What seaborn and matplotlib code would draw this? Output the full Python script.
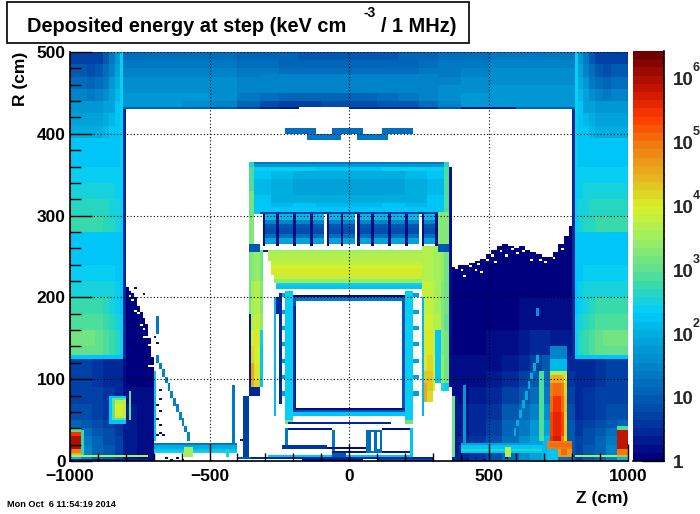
import numpy as np
import matplotlib
matplotlib.use("Agg")
import matplotlib.pyplot as plt
from matplotlib.colors import LinearSegmentedColormap, LogNorm
from matplotlib.patches import Rectangle
import seaborn as sns

# all values are log10(keV cm-3 / 1 MHz)
Z_MIN, Z_MAX, R_MAX = -1000, 1000, 500
Z_BIN, R_BIN = 10, 2.5

# palette anchors (log10 value, colour)
palette_logs = [0, 0.5, 1, 1.5, 2, 2.3, 2.7, 3, 3.5, 4, 4.5, 5, 5.4, 5.8, 6.42]
palette_cols = ["#00007f", "#00339f", "#0060b5", "#0088cc", "#00b0e0", "#00ccff", "#30d8b0", "#60e090",
                "#a0f060", "#d8f028", "#e6b020", "#f07a10", "#ff3c00", "#d01800", "#700000"]

# end cap block, written for the left side and mirrored
cap_z = [-1000, -970, -940, -910, -880, -860, -840, -820, -806]
cap_r = [500, 485, 470, 455, 440, 425, 410, 395, 380, 360, 340, 320, 300, 280, 260, 240, 220, 200, 180, 160, 140, 130, 125]
cap_v = [[0.7, 0.7, 0.7, 0.7, 1.0, 1.3, 1.7, 2.4],
         [0.9, 0.9, 0.8, 0.9, 1.2, 1.5, 1.9, 2.4],
         [1.2, 1.2, 1.1, 1.2, 1.4, 1.7, 2.0, 2.4],
         [1.5, 1.5, 1.4, 1.5, 1.6, 1.8, 2.1, 2.4],
         [1.7, 1.7, 1.7, 1.7, 1.8, 1.9, 2.2, 2.4],
         [1.9, 1.9, 1.9, 1.9, 2.0, 2.1, 2.2, 2.4],
         [2.05, 2.05, 2.05, 2.05, 2.1, 2.2, 2.25, 2.35],
         [2.2, 2.2, 2.2, 2.2, 2.2, 2.25, 2.3, 2.35],
         [2.3, 2.3, 2.3, 2.3, 2.3, 2.3, 2.3, 2.35],
         [2.4, 2.4, 2.4, 2.4, 2.4, 2.4, 2.35, 2.35],
         [2.55, 2.55, 2.55, 2.55, 2.5, 2.45, 2.4, 2.35],
         [2.65, 2.65, 2.65, 2.65, 2.6, 2.5, 2.45, 2.4],
         [2.75, 2.75, 2.75, 2.7, 2.65, 2.6, 2.5, 2.4],
         [2.25, 2.25, 2.25, 2.25, 2.25, 2.25, 2.25, 2.25],
         [2.3, 2.3, 2.3, 2.3, 2.3, 2.3, 2.25, 2.25],
         [2.4, 2.4, 2.4, 2.4, 2.4, 2.35, 2.3, 2.25],
         [2.55, 2.55, 2.55, 2.55, 2.5, 2.45, 2.35, 2.25],
         [2.75, 2.75, 2.75, 2.7, 2.65, 2.55, 2.4, 2.3],
         [2.95, 2.95, 2.95, 2.9, 2.8, 2.65, 2.5, 2.35],
         [3.1, 3.1, 3.1, 3.05, 2.95, 2.8, 2.6, 2.4],
         [3.05, 3.05, 3.05, 3.0, 2.9, 2.8, 2.6, 2.4],
         [2.2, 2.2, 2.2, 2.2, 2.2, 2.2, 2.2, 2.2]]

cap_low_z = [-1000, -960, -920, -880, -840, -806]
cap_low_r = [125, 90, 70, 50, 40, 30, 20, 10, 0]
cap_low_v = [[0.7, 0.65, 0.6, 0.5, 0.4],
             [0.75, 0.7, 0.65, 0.55, 0.45],
             [0.85, 0.8, 0.7, 0.6, 0.5],
             [1.1, 0.95, 0.8, 0.7, 0.55],
             [1.5, 1.2, 0.95, 0.8, 0.6],
             [1.9, 1.4, 1.05, 0.85, 0.65],
             [2.1, 1.5, 1.1, 0.9, 0.7],
             [2.1, 1.5, 1.1, 0.9, 0.7]]

yoke_z = [-806, -700, -600, -500, -400, -320, -250, -180, -100, 0, 100, 180, 250, 320, 400, 500, 600, 700, 806]
yoke_r = [500, 490, 480, 470, 460, 450, 440, 433, 430]
yoke_v = [[1.25, 1.25, 1.25, 1.2, 1.15, 1.1, 1.05, 1.0, 1.0, 1.0, 1.0, 1.05, 1.1, 1.2, 1.25, 1.3, 1.35, 1.4],
          [1.4, 1.4, 1.4, 1.35, 1.25, 1.2, 1.15, 1.1, 1.1, 1.1, 1.1, 1.15, 1.2, 1.3, 1.4, 1.45, 1.5, 1.5],
          [1.5, 1.5, 1.5, 1.45, 1.35, 1.3, 1.25, 1.2, 1.2, 1.2, 1.2, 1.25, 1.3, 1.4, 1.5, 1.55, 1.6, 1.6],
          [1.6, 1.6, 1.6, 1.55, 1.45, 1.35, 1.3, 1.3, 1.3, 1.3, 1.3, 1.3, 1.4, 1.5, 1.6, 1.65, 1.65, 1.65],
          [1.65, 1.65, 1.65, 1.6, 1.5, 1.4, 1.35, 1.3, 1.3, 1.3, 1.3, 1.35, 1.45, 1.6, 1.65, 1.7, 1.7, 1.7],
          [1.7, 1.7, 1.7, 1.65, 1.4, 1.2, 1.1, 1.1, 1.1, 1.1, 1.2, 1.3, 1.5, 1.65, 1.7, 1.75, 1.75, 1.75],
          [1.7, 1.7, 1.65, 1.5, 1.1, 0.8, 0.7, 0.7, 0.8, 0.8, 0.9, 1.0, 1.2, 1.5, 1.7, 1.7, 1.7, 1.7],
          [1.1, 1.1, 1.1, 1.0, 0.7, 0.4, 0.3, None, None, 0.5, 0.5, 0.5, 0.6, 1.0, 0.3, 0.3, 1.1, 1.1]]

# lower dark volume, left of the barrel
left_low_z = [-806, -760, -700]
left_low_r = [125, 70, 30, 0]
left_low_v = [[0.25, 0.15], [0.3, 0.2], [0.35, 0.25]]
left_front_z = [-800, -790, -780, -770, -760, -750, -740, -730, -720, -710, -700]
left_front_r = [212, 208, 204, 200, 190, 182, 175, 168, 150, 128, 108]

# lower dark volume, right of the barrel
right_low_z = [370, 430, 490, 550, 610, 650, 690, 717, 806]
right_low_r = [300, 200, 160, 130, 110, 90, 70, 50, 30, 15, 0]
right_low_v = [[0.05, 0.05, 0.05, 0.05, 0.05, 0.05, 0.05, 0.05],
               [0.05, 0.05, 0.05, 0.1, 0.15, 0.2, 0.25, 0.2],
               [0.1, 0.1, 0.15, 0.2, 0.3, 0.4, 0.5, 0.35],
               [0.15, 0.15, 0.2, 0.3, 0.5, 0.7, 0.9, 0.5],
               [0.2, 0.25, 0.3, 0.5, 0.7, 1.0, 1.2, 0.6],
               [0.25, 0.3, 0.45, 0.7, 1.0, 1.25, 1.4, 0.7],
               [0.3, 0.4, 0.6, 0.9, 1.2, 1.5, 1.6, 0.8],
               [0.35, 0.5, 0.7, 1.1, 1.4, 1.7, 1.9, 0.9],
               [0.4, 0.6, 0.8, 1.2, 1.6, 1.9, 2.1, 1.0],
               [0.4, 0.6, 0.8, 1.2, 1.6, 1.9, 2.1, 1.0]]
right_front_z = [370, 390, 410, 430, 450, 470, 490, 510, 530, 550, 570, 590, 610, 630, 650, 670,
                 690, 710, 730, 750, 770, 790]
right_front_r = [238, 240, 240, 242, 245, 248, 252, 258, 262, 264, 262, 260, 262, 258, 255, 252,
                 250, 250, 254, 265, 274, 288]
white_specks = [(-790, 200), (-770, 182), (-750, 165), (-735, 150), (-725, 140), (-715, 115),
                (-760, 180), (-780, 195), (-740, 160),
                (380, 235), (400, 232), (410, 225), (430, 238), (450, 232), (460, 240), (470, 230),
                (490, 245), (510, 250), (520, 242), (540, 255), (560, 250), (580, 257), (600, 252),
                (620, 255), (650, 245), (680, 245), (700, 243), (730, 248), (760, 258)]
navy_specks = [(-700, 150), (-690, 142), (-740, 202), (-770, 210), (-680, 85), (-685, 75), (-690, 68), (-680, 60),
               (-690, 50), (-685, 42), (-680, 32), (-690, 30), (-670, 30), (-660, 3), (-640, 1), (-620, 3), (-600, 1),
               (-385, 60), (-385, 50), (-385, 40), (-390, 24), (-380, 3), (-750, 1), (-730, 3), (-720, 1), (385, 40),
               (385, 30), (385, 20), (400, 15), (395, 3), (420, 1), (450, 3), (480, 1), (560, 2)]

# barrel: shell above the coil cells
shell_z = [-342, -280, -200, -120, -40, 40, 120, 200, 280, 340]
shell_r = [360, 355, 345, 335, 325, 315, 309, 303]
shell_v = [[2.35, 2.35, 2.35, 2.3, 2.3, 2.3, 2.35, 2.35, 2.35],
           [2.2, 2.1, 2.05, 2.05, 2.05, 2.05, 2.05, 2.1, 2.2],
           [2.15, 2.0, 1.9, 1.9, 1.9, 1.9, 1.9, 2.0, 2.15],
           [2.15, 1.95, 1.9, 1.9, 1.9, 1.9, 1.9, 1.95, 2.15],
           [2.2, 2.05, 2.05, 2.0, 2.0, 2.0, 2.05, 2.05, 2.2],
           [2.25, 2.15, 2.2, 2.1, 2.1, 2.1, 2.2, 2.15, 2.25],
           [2.3, 2.25, 2.3, 2.2, 2.2, 2.2, 2.3, 2.25, 2.3]]
cell_edges = [-312, -255, -198, -142, -85, -28, 28, 85, 142, 198, 255, 312]
cell_r = [302, 296, 290, 284, 278, 272, 264]
cell_v = [2.1, 1.5, 1.0, 0.85, 1.2, 1.8]

# calorimeter rows, wide end first: half width at r, value
ecal_r = [258, 252, 246, 240, 234, 228, 222, 218, 214, 209]
ecal_half = [290, 288, 285, 282, 278, 274, 270, 262, 258, 252]
ecal_v = [3.5, 3.7, 3.8, 3.9, 4.0, 3.8, 3.4, 2.5, 2.3, 1.7]
ladder_r = [205, 195, 185, 175, 165, 155, 145, 135, 125, 115, 105, 95, 85, 75]

# side columns next to the barrel
side_left_z = [-362, -350, -335, -320, -312]
side_left_r = [258, 220, 180, 160, 140, 120, 100, 90]
side_left_v = [[3.1, 3.3, 3.4, 3.2],
               [3.2, 3.5, 3.6, 3.3],
               [3.3, 3.7, 3.8, 3.4],
               [3.4, 3.9, 4.0, 2.4],
               [3.6, 4.2, 3.9, 2.3],
               [3.7, 4.6, 4.1, 2.3],
               [3.4, 4.5, 4.2, 2.2]]
side_right_z = [265, 285, 300, 308, 326, 342, 358]
side_right_r = [262, 220, 180, 160, 130, 110, 95, 85, 72]
side_right_v = [[3.7, 3.7, 3.5, 3.5, 3.4, 3.1],
                [3.8, 3.8, 3.6, 3.5, 3.3, 3.1],
                [3.9, 3.9, 3.7, 3.6, 3.3, 3.0],
                [4.0, 4.0, 3.8, 2.2, 3.3, 3.1],
                [4.1, 4.2, 3.9, 2.2, 3.4, 3.1],
                [4.3, 4.3, 3.9, 2.2, 3.4, 3.1],
                [4.5, 4.3, 3.9, None, 2.6, 2.4],
                [4.5, 4.2, None, None, None, None]]

# hot column on the right side
hot_z = [717, 724, 733, 765, 773, 780]
hot_r = [139, 125, 111, 105, 95, 80, 60, 30, 25]
hot_v = [[1.5, 1.5, 1.5, 1.5, 1.5],
         [2.1, 2.1, 2.1, 2.1, 2.1],
         [3.6, 3.7, 3.7, 3.7, 3.6],
         [4.1, 4.4, 4.6, 4.4, 4.1],
         [4.2, 4.9, 5.1, 4.9, 4.2],
         [4.3, 5.1, 5.4, 5.1, 4.3],
         [4.4, 5.3, 5.6, 5.3, 4.2],
         [4.5, 5.4, 5.7, 4.9, 4.1]]

# flat pieces: z0, z1, r0, r1, value (None leaves the cell empty)
pieces = [
    # yoke inner patch and dark lines
    (-320, 320, 450, 472, 1.45), (-806, -798, 125, 430, 0.4), (796, 806, 125, 430, 0.4),
    # muon stations
    (-229, -122, 400, 407, 1.25), (-147, -32, 393, 400, 1.35), (-57, 54, 400, 407, 1.25),
    (29, 143, 393, 400, 1.35), (118, 229, 400, 407, 1.25),
    # barrel sides
    (-362, -342, 360, 365, 2.6), (-362, -342, 330, 360, 2.9), (-362, -342, 300, 330, 3.1), (-362, -342, 262, 300, 3.3),
    (340, 358, 360, 365, 2.6), (340, 358, 305, 360, 2.9), (320, 358, 262, 305, 3.3),
    (-342, 340, 362, 365, 1.3), (-342, 340, 360, 362, 1.7),
    (-362, -318, 255, 264, 0.9), (318, 358, 255, 264, 0.9),
    (358, 368, 90, 360, 0.2),
    (-365, -360, 85, 180, 0.3), (-362, -320, 80, 90, 0.5),
    # tracker box
    (-200, 200, 199, 202, 0.2), (-200, 200, 195, 199, 1.3), (-200, -190, 56, 199, 1.0), (190, 200, 56, 199, 1.0),
    (-200, 200, 62, 65, 0.2), (-200, 200, 59, 62, 1.0), (-200, 200, 56, 59, 2.2),
    (-272, -255, 54, 200, 2.1), (255, 272, 54, 200, 2.1),
    (-229, -204, 50, 207, 2.4), (204, 229, 50, 207, 2.4), (-229, -204, 45, 50, 3.1), (204, 229, 45, 50, 3.1),
    (-262, -255, 180, 200, 0.4), (-204, -200, 60, 190, 0.5),
    # inner thin lines
    (-229, -61, 37, 39, 0.3), (-229, -225, 20, 39, 1.4), (-62, -58, 5, 38, 1.3),
    (-220, 154, 45, 47, 0.4), (-240, -80, 16, 20, 0.6), (-80, 65, 16, 18, 0.2),
    (65, 122, 10, 38, 1.2), (75, 85, 12, 36, None), (95, 105, 14, 36, None),
    (122, 224, 38, 40, 0.2), (122, 224, 11, 13, 0.3), (224, 228, 5, 40, 2.2),
    (-400, 300, 3, 5, 0.5), (-290, 224, 5, 6, 2.2), (-60, -10, 5, 12, 1.0), (-60, 60, 11, 13, 0.3),
    (-170, 50, 0, 3, 0.3), (100, 300, 0, 3, 0.8),
    # left lower structures
    (-855, -796, 46, 81, 2.3), (-850, -800, 49, 78, 3.0), (-845, -803, 52, 75, 3.6), (-838, -810, 55, 70, 3.95), (-790, -780, 50, 85, 3.0),
    (-1000, -957, 36, 40, 2.9), (-1000, -957, 14, 36, 5.95), (-1000, -957, 30, 36, 5.4), (-1000, -957, 10, 14, 5.0), (-1000, -957, 5, 10, 4.4),
    (-957, -950, 5, 38, 2.7), (-1000, -720, 5, 8, 3.6), (-1000, -720, 0, 3, 0.5),
    (-700, -690, 26, 111, 2.2), (-690, -680, 155, 178, 1.4),
    (-695, -400, 19, 22, 1.3), (-695, -400, 16, 19, 2.0), (-695, -400, 13, 16, 2.3), (-695, -400, 10, 13, 2.5),
    (-590, -565, 5, 17, 3.5), (-415, -410, 22, 93, 1.4), (-380, -375, 5, 80, 3.4), (-375, -365, 5, 80, 0.7),
    (-435, -430, 5, 15, 2.5), (-400, -350, 3, 5, 1.0),
    # right lower structures
    (706, 802, 16, 25, 4.9), (716, 795, 18, 23, 5.1), (746, 795, 5, 16, 4.7), (755, 780, 8, 14, 5.1), (706, 746, 0, 16, 2.3), (746, 806, 0, 5, 1.2),
    (806, 958, 5, 8, 3.5), (958, 1000, 38, 42, 2.9), (958, 1000, 14, 38, 5.8), (958, 1000, 8, 14, 5.0), (958, 1000, 4, 8, 4.4),
    (684, 695, 26, 111, 2.9), (673, 680, 178, 187, 1.7),
    (398, 690, 19, 22, 1.8), (398, 690, 16, 19, 2.2), (398, 690, 13, 16, 2.6), (398, 690, 10, 13, 2.3),
    (558, 583, 5, 17, 3.7), (410, 415, 20, 93, 1.7), (370, 378, 5, 80, 3.1), (378, 384, 5, 80, 0.3),
]

# diagonal shields: z, r pairs along the line
left_diagonal_z = [-690, -680, -670, -660, -650, -640, -630, -620, -610, -600, -590, -580]
left_diagonal_r = [120, 112, 103, 94, 85, 77, 68, 60, 51, 43, 34, 25]
right_diagonal_z = [590, 600, 610, 620, 630, 640, 650, 660, 670]
right_diagonal_r = [30, 42, 53, 65, 76, 88, 99, 110, 120]

x_labels = ["\u22121000", "\u2212500", "0", "500", "1000"]
x_majors = [-1000, -500, 0, 500, 1000]
y_majors = [0, 100, 200, 300, 400, 500]
cbar_decades = [1, 10, 100, 1000, 10000, 100000, 1000000]
cbar_bases = ["1", "10", "10", "10", "10", "10", "10"]
cbar_powers = ["", "", "2", "3", "4", "5", "6"]


def zi(z):
    return int(round((z - Z_MIN) / Z_BIN))


def ri(r):
    return int(round(r / R_BIN))


def paint(grid, z0, z1, r0, r1, v):
    i0, j0 = zi(z0), ri(r0)
    i1, j1 = max(zi(z1), i0 + 1), max(ri(r1), j0 + 1)
    grid[j0:j1, i0:i1] = np.nan if v is None else v


def paint_table(grid, zs, rs, table, mirror=False):
    for row in range(len(rs) - 1):
        for col in range(len(zs) - 1):
            paint(grid, zs[col], zs[col + 1], rs[row + 1], rs[row], table[row][col])
            if mirror:
                paint(grid, -zs[col + 1], -zs[col], rs[row + 1], rs[row], table[row][col])


def build_grid():
    grid = np.full((int(R_MAX / R_BIN), int((Z_MAX - Z_MIN) / Z_BIN)), np.nan)

    # dark volumes with their uneven outer fronts
    paint_table(grid, right_low_z, right_low_r, right_low_v)
    for k, z in enumerate(right_front_z):
        paint(grid, z, z + 20, right_front_r[k], 300, None)
    paint(grid, 370, 806, 292, 300, None)
    paint_table(grid, cap_low_z, cap_low_r, cap_low_v, mirror=True)
    paint_table(grid, left_low_z, left_low_r, left_low_v)
    paint(grid, -700, -690, 0, 90, None)
    for k, z in enumerate(left_front_z):
        paint(grid, z, z + 10, 90, left_front_r[k], 0.1)
    for z, r in white_specks:
        paint(grid, z, z + 10, r, r + 2.5, None)
    for z, r in navy_specks:
        paint(grid, z, z + 10, r, r + 2.5, 0.15)

    paint_table(grid, cap_z, cap_r, cap_v, mirror=True)
    paint_table(grid, yoke_z, yoke_r, yoke_v)

    # barrel
    paint_table(grid, shell_z, shell_r, shell_v)
    for k in range(len(cell_edges) - 1):
        for m in range(len(cell_v)):
            paint(grid, cell_edges[k] + 7, cell_edges[k + 1] - 3, cell_r[m + 1], cell_r[m], cell_v[m])
        paint(grid, cell_edges[k], cell_edges[k] + 7, 262, 303, 0.2)
    paint(grid, 312, 319, 262, 303, 0.2)
    paint(grid, -318, 318, 302, 304, 0.7)
    paint(grid, -312, 318, 255, 258, 0.4)
    for k in range(len(ecal_r) - 1):
        paint(grid, -ecal_half[k], ecal_half[k], ecal_r[k + 1], ecal_r[k], ecal_v[k])
    paint_table(grid, side_left_z, side_left_r, side_left_v)
    paint_table(grid, side_right_z, side_right_r, side_right_v)
    for k, r in enumerate(ladder_r):
        paint(grid, -250, -229, r - 5, r, None if k % 2 else 1.8)
        paint(grid, 229, 250, r - 5, r, None if k % 2 else 1.8)
    paint(grid, -250, -245, 70, 205, 0.4)

    for piece in pieces:
        paint(grid, *piece)
    paint_table(grid, hot_z, hot_r, hot_v)
    for z, r in zip(left_diagonal_z, left_diagonal_r):
        paint(grid, z, z + 10, r, r + 9, 1.5)
    for z, r in zip(right_diagonal_z, right_diagonal_r):
        paint(grid, z, z + 10, r, r + 9, 2.0)
    return grid


grid = build_grid()
values = 10.0 ** grid

sns.set_theme(style="white")
plt.rcParams["font.family"] = ["Liberation Sans", "DejaVu Sans"]
plt.rcParams["font.weight"] = "bold"

W, H = 700, 514
fig = plt.figure(figsize=(7, 5.14), dpi=100)
ax = fig.add_axes([70 / W, 1 - 461 / H, 558 / W, 409 / H])
cax = fig.add_axes([633 / W, 1 - 461 / H, 31 / W, 410 / H])

stops = [(l - palette_logs[0]) / (palette_logs[-1] - palette_logs[0]) for l in palette_logs]
cmap = LinearSegmentedColormap.from_list("root", list(zip(stops, palette_cols)), N=50)
norm = LogNorm(vmin=1, vmax=10 ** palette_logs[-1])

sns.heatmap(values, ax=ax, cbar_ax=cax, cmap=cmap, norm=norm, xticklabels=False, yticklabels=False,
            mask=np.isnan(values), rasterized=True)
ax.invert_yaxis()


def xpos(z):
    return (z - Z_MIN) / Z_BIN


def ypos(r):
    return r / R_BIN


ax.set_xticks([xpos(z) for z in x_majors])
ax.set_xticklabels(x_labels, fontsize=12.5, fontweight="bold", color="black")
ax.set_yticks([ypos(r) for r in y_majors])
ax.set_yticklabels([str(r) for r in y_majors], fontsize=12.5, fontweight="bold", color="black", rotation=0)
ax.set_xticks([xpos(z) for z in range(-1000, 1001, 100)], minor=True)
ax.set_yticks([ypos(r) for r in range(0, 501, 20)], minor=True)
ax.tick_params(axis="both", which="major", direction="in", length=12, width=1, color="black", bottom=True, left=True)
ax.tick_params(axis="x", which="major", pad=5.5)
ax.tick_params(axis="y", which="major", length=16, pad=3)
ax.tick_params(axis="x", which="minor", direction="in", length=6, width=1, color="black", bottom=True)
ax.tick_params(axis="y", which="minor", direction="in", length=8, width=1, color="black", left=True)
ax.grid(True, which="major", linestyle=(0, (1, 2)), color="black", linewidth=0.8)
ax.set_axisbelow(False)
for side in ["left", "bottom"]:
    ax.spines[side].set_visible(True)
    ax.spines[side].set_color("black")
    ax.spines[side].set_linewidth(1.2)
ax.spines["top"].set_visible(False)
ax.spines["right"].set_visible(False)

cax.set_yscale("log")
cax.yaxis.tick_right()
cax.set_yticks(cbar_decades)
cax.set_yticklabels([])
cax.set_yticks([m * d for d in cbar_decades for m in range(2, 10) if m * d < 10 ** palette_logs[-1]], minor=True)
cax.set_yticklabels([], minor=True)
cax.tick_params(axis="y", which="major", direction="in", length=16, width=1, color="black", right=True)
cax.tick_params(axis="y", which="minor", direction="in", length=8, width=1, color="black", right=True)
for side in ["right", "bottom"]:
    cax.spines[side].set_visible(True)
    cax.spines[side].set_color("black")
    cax.spines[side].set_linewidth(1.2)
# "10" and its power are separate texts, the power would run off the page otherwise
for val, base, power in zip(cbar_decades, cbar_bases, cbar_powers):
    cax.annotate(base, xy=(1, val), xycoords=("axes fraction", "data"), xytext=(6.5, -2),
                 textcoords="offset points", fontsize=13.5, fontweight="bold", va="center", ha="left", annotation_clip=False)
    if power:
        cax.annotate(power, xy=(1, val), xycoords=("axes fraction", "data"), xytext=(20.5, 7),
                     textcoords="offset points", fontsize=9, fontweight="bold", va="center", ha="left", annotation_clip=False)


def px_text(x, y, s, **kw):
    fig.text(x / W, 1 - y / H, s, color="black", fontweight="bold", **kw)


fig.add_artist(Rectangle((7 / W, 1 - 43 / H), 462 / W, 41 / H, transform=fig.transFigure,
                         facecolor="white", edgecolor="black", linewidth=1.2))
px_text(27, 32, "Deposited energy at step (keV cm", fontsize=14.4, ha="left", va="baseline")
px_text(364, 17, "-3", fontsize=10, ha="left", va="baseline")
px_text(381, 32, "/ 1 MHz)", fontsize=14.4, ha="left", va="baseline")
px_text(628, 503, "Z (cm)", fontsize=12.5, ha="right", va="baseline")
px_text(20, 106, "R (cm)", fontsize=12.5, ha="center", va="bottom", rotation=90)
px_text(7, 507, "Mon Oct  6 11:54:19 2014", fontsize=6.6, ha="left", va="baseline")

fig.savefig("out.png", dpi=100)
